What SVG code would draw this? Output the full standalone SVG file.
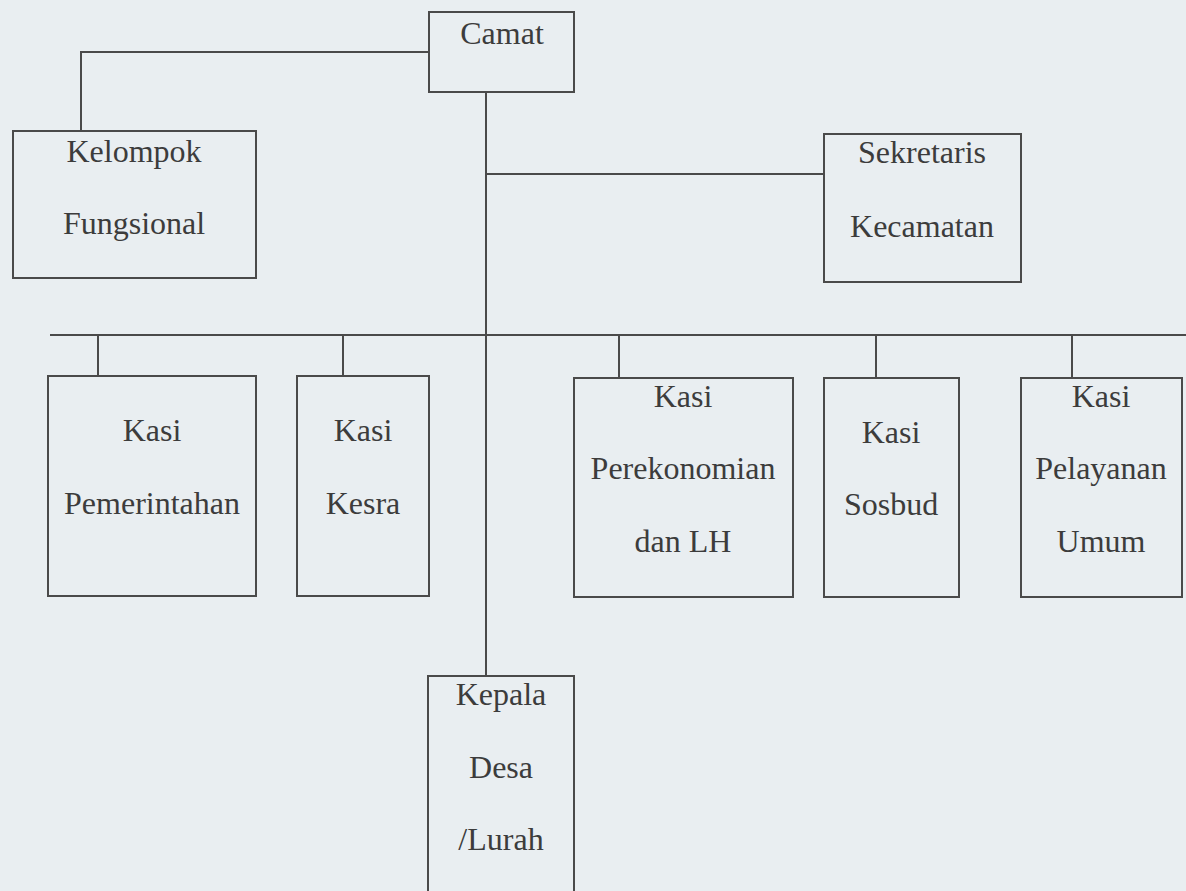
<svg xmlns="http://www.w3.org/2000/svg" width="1186" height="891" viewBox="0 0 1186 891">
<style>
.box{fill:none;stroke:#4a4a4a;stroke-width:2}
.ln{fill:none;stroke:#4a4a4a;stroke-width:2}
text{font-family:"Liberation Serif","Times New Roman",serif;font-size:32px;fill:#3c3c3c;text-anchor:middle}
</style>
<rect width="1186" height="891" fill="#e9eef1"/>
<g id="connectors">
<path class="ln" d="M429 52 H81 V131"/>
<path class="ln" d="M486 92 V676"/>
<path class="ln" d="M486 174 H824"/>
<path class="ln" d="M50 335 H1186"/>
<path class="ln" d="M98 335 V376"/>
<path class="ln" d="M343 335 V376"/>
<path class="ln" d="M619 335 V378"/>
<path class="ln" d="M876 335 V378"/>
<path class="ln" d="M1072 335 V378"/>
</g>
<g id="camat"><rect class="box" x="429" y="12" width="145" height="80"/><text x="502" y="44">Camat</text></g>
<g id="kelompok"><rect class="box" x="13" y="131" width="243" height="147"/><text x="134" y="162">Kelompok</text><text x="134" y="234">Fungsional</text></g>
<g id="sekretaris"><rect class="box" x="824" y="134" width="197" height="148"/><text x="922" y="163">Sekretaris</text><text x="922" y="237">Kecamatan</text></g>
<g id="pemerintahan"><rect class="box" x="48" y="376" width="208" height="220"/><text x="152" y="441">Kasi</text><text x="152" y="514">Pemerintahan</text></g>
<g id="kesra"><rect class="box" x="297" y="376" width="132" height="220"/><text x="363" y="441">Kasi</text><text x="363" y="514">Kesra</text></g>
<g id="perekonomian"><rect class="box" x="574" y="378" width="219" height="219"/><text x="683" y="407">Kasi</text><text x="683" y="479">Perekonomian</text><text x="683" y="552">dan LH</text></g>
<g id="sosbud"><rect class="box" x="824" y="378" width="135" height="219"/><text x="891" y="443">Kasi</text><text x="891" y="515">Sosbud</text></g>
<g id="pelayanan"><rect class="box" x="1021" y="378" width="161" height="219"/><text x="1101" y="407">Kasi</text><text x="1101" y="479">Pelayanan</text><text x="1101" y="552">Umum</text></g>
<g id="kepala"><rect class="box" x="428" y="676" width="146" height="230"/><text x="501" y="705">Kepala</text><text x="501" y="778">Desa</text><text x="501" y="850">/Lurah</text></g>
</svg>
